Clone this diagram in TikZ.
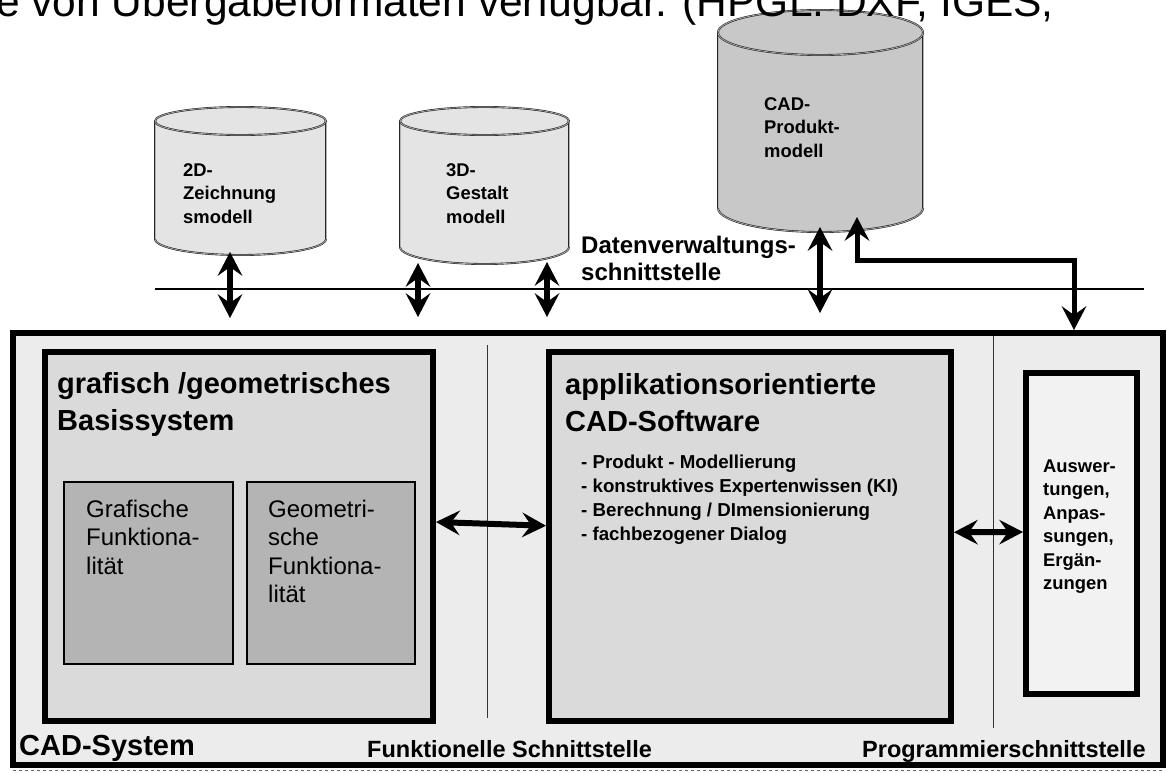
\documentclass[tikz,border=0pt]{standalone}
\usepackage{fontspec}
\setmainfont{Liberation Sans}
\usetikzlibrary{arrows.meta}
\definecolor{outerfill}{HTML}{ECECEC}
\definecolor{boxfill}{HTML}{DADADA}
\definecolor{subfill}{HTML}{B4B4B4}
\definecolor{rightfill}{HTML}{F2F2F2}
\definecolor{cylfill}{HTML}{E4E4E4}
\definecolor{cadfill}{HTML}{C8C8C8}
\tikzset{
  thickbox/.style={draw=black, line width=6pt, rectangle, inner sep=0pt},
  subbox/.style={draw=black, line width=1.5pt, fill=subfill, rectangle, inner sep=0pt},
  dbl/.style={{Stealth[length=24pt,width=25pt,inset=9pt,line width=0pt]}-{Stealth[length=24pt,width=25pt,inset=9pt,line width=0pt]}, line width=6pt},
  sepline/.style={line width=1pt, black!80},
  cylline/.style={draw=black!85, double=black!30, double distance=0.7pt, line width=0.6pt},
  txt/.style={anchor=base west, inner sep=0pt, align=left},
  bigb/.style={txt, font=\bfseries\fontsize{29}{37}\selectfont},
  smallb/.style={txt, font=\bfseries\fontsize{18.4}{23.5}\selectfont},
  medb/.style={txt, font=\bfseries\fontsize{24}{27}\selectfont},
  reg/.style={txt, font=\fontsize{24}{28.5}\selectfont},
}
\newcommand\drawcyl[7]{%
  \pgfmathsetmacro\mycx{(#1+#2)/2}%
  \pgfmathsetmacro\myrx{(#2-#1)/2}%
  \fill[#7] (#1,#3) rectangle (#2,#4);
  \fill[#7] (\mycx,#4) ellipse [x radius=\myrx, y radius=#6];
  \begin{scope}
    \clip (#1-4,#4) rectangle (#2+4,#4+#6+5);
    \draw[cylline] (\mycx,#4) ellipse [x radius=\myrx, y radius=#6];
  \end{scope}
  \draw[cylline] (#1,#3) -- (#1,#4) (#2,#3) -- (#2,#4);
  \draw[cylline, fill=#7] (\mycx,#3) ellipse [x radius=\myrx, y radius=#5];
}
\begin{document}
\begin{tikzpicture}[x=1pt,y=-1pt]
\useasboundingbox (0,0) rectangle (1167,772);

% cylinders
\drawcyl{155}{326}{121}{239}{14}{16}{cylfill}
\drawcyl{400}{569}{121}{247}{14}{17}{cylfill}
\drawcyl{718}{923}{32.5}{208}{22.5}{24}{cadfill}

% (multi-line nodes: base anchor = baseline of the last line)
\node[smallb] (z2d) at (183,223) {2D-\\Zeichnung\\smodell};
\node[smallb] (z3d) at (446,223) {3D-\\Gestalt\\modell};
\node[smallb] (zcad) at (764,157) {CAD-\\Produkt-\\modell};

% Datenverwaltungs-Schnittstelle
\coordinate (dvl) at (155,289);
\coordinate (dvr) at (1144,289);
\draw[line width=1.2pt] (dvl) -- (dvr);
\node[medb] (dvs) at (581,280) {Datenverwaltungs-\\schnittstelle};

% outer CAD system box
\node[thickbox, fill=outerfill, minimum width=1150pt, minimum height=432pt] (O) at (588,549) {};
\draw[dashed, black!60, line width=0.6pt] (13,770.5) -- (1163,770.5);

\draw[sepline] (487,345) -- (487,718);
\draw[sepline] (993,336) -- (993,728);

% left box
\node[thickbox, fill=boxfill, minimum width=388pt, minimum height=369pt] (L) at (239,536.5) {};
\node[bigb] (Lt) at (57,430) {grafisch /geometrisches\\Basissystem};
\node[subbox, minimum width=169pt, minimum height=182pt] (S1) at (148.5,573) {};
\node[subbox, minimum width=168pt, minimum height=182pt] (S2) at (331,573) {};
\node[reg] (S1t) at (86,574) {Grafische\\Funktiona-\\lität};
\node[reg] (S2t) at (268,602.5) {Geometri-\\sche\\Funktiona-\\lität};

% middle box
\node[thickbox, fill=boxfill, minimum width=402pt, minimum height=368.5pt] (M) at (750,536.25) {};
\node[bigb] (Mt) at (565,431) {applikationsorientierte\\CAD-Software};
\node[txt, font=\bfseries\fontsize{18.7}{24}\selectfont] (Ml) at (581,540)
  {- Produkt - Modellierung\\- konstruktives Expertenwissen (KI)\\- Berechnung / DImensionierung\\- fachbezogener Dialog};

% right box
\node[thickbox, fill=rightfill, minimum width=111pt, minimum height=321pt] (R) at (1081.5,533.5) {};
\node[smallb] (Rt) at (1043,589.5) {Auswer-\\tungen,\\Anpas-\\sungen,\\Ergän-\\zungen};

% bottom labels
\node[txt, font=\bfseries\fontsize{29}{35}\selectfont] (cs) at (19,755) {CAD-System};
\node[txt, font=\bfseries\fontsize{23.5}{28}\selectfont] (fs) at (367,757) {Funktionelle Schnittstelle};
\node[txt, font=\bfseries\fontsize{23.5}{28}\selectfont] (ps) at (862,757) {Programmierschnittstelle};

% connectors
\draw[dbl] ([yshift=14.5pt]L.east) -- ([yshift=10.5pt]M.west);
\draw[dbl] ([yshift=4pt]M.east) -- ([yshift=1.5pt]R.west);

\coordinate (a1t) at (230,252); \coordinate (a1b) at (230,318);
\coordinate (a2t) at (418,263); \coordinate (a2b) at (418,317);
\coordinate (a3t) at (547,262); \coordinate (a3b) at (547,317);
\coordinate (a4t) at (820,227); \coordinate (a4b) at (820,313);
\coordinate (a5t) at (857,217); \coordinate (a5b) at (1074,330);
\draw[dbl] (a1t) -- (a1b);
\draw[dbl] (a2t) -- (a2b);
\draw[dbl] (a3t) -- (a3b);
\draw[dbl] (a4t) -- (a4b);
\draw[dbl, line width=5pt, line join=miter] (a5t) -- ++(0,43) -| (a5b);

% cropped heading line at the top
\node[txt, font=\fontsize{42.5}{50}\selectfont] (head) at (-4,16) {e von Übergabeformaten verfügbar. (HPGL. DXF, IGES,};
\end{tikzpicture}
\end{document}
